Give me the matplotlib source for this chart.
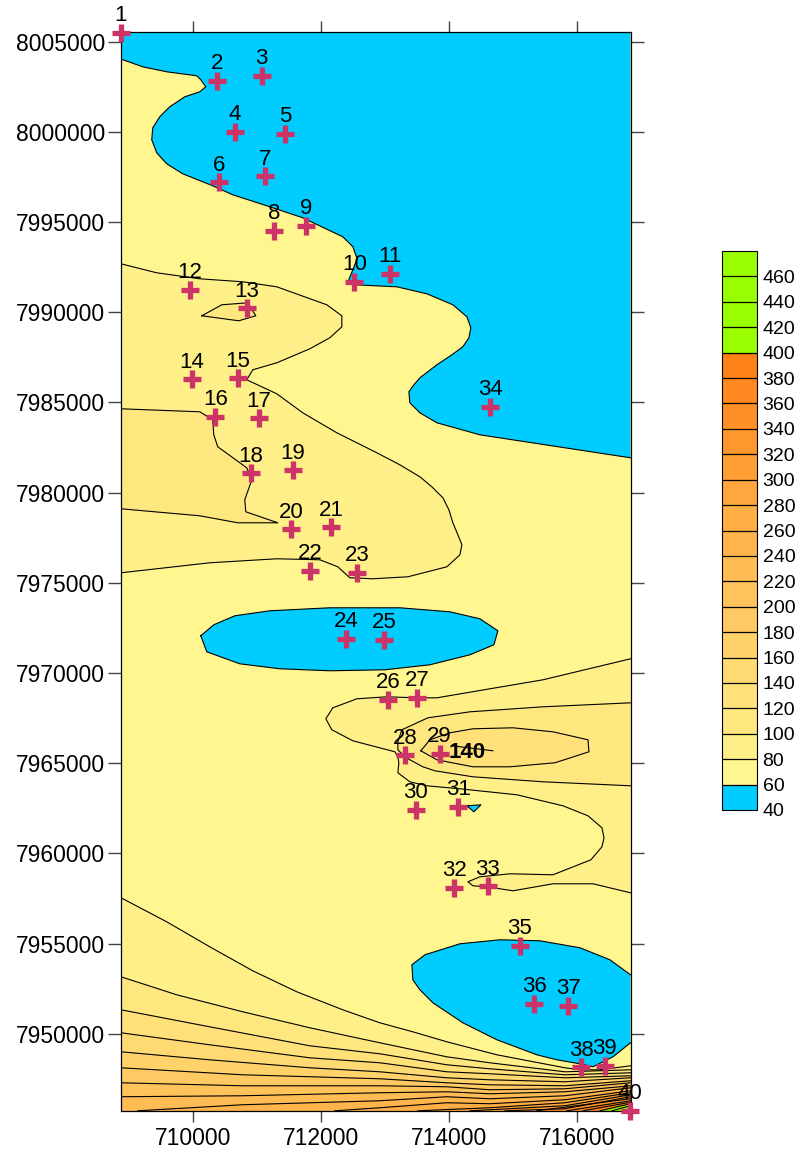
import numpy as np
import matplotlib
matplotlib.use('Agg')
import matplotlib.pyplot as plt
from matplotlib.cm import ScalarMappable
from matplotlib.colors import BoundaryNorm, LinearSegmentedColormap, ListedColormap

plt.rcParams['font.family'] = 'Liberation Sans'

# limits of the map
x_min, x_max = 708875, 716832
y_min, y_max = 7945734, 8005515
x_ticks = [710000, 712000, 714000, 716000]
y_ticks = list(range(7950000, 8005001, 5000))

# colour scale levels
levels = list(range(40, 481, 20))

# sample stations
station_x = [708875, 710375, 711070, 710650, 711440, 710400, 711130, 711270, 711760, 712520,
             713070, 709950, 710840, 709980, 710700, 710350, 711030, 710900, 711560, 711530,
             712160, 711830, 712560, 712390, 712980, 713050, 713500, 713310, 713850, 713480,
             714140, 714080, 714600, 714640, 715100, 715330, 715860, 716060, 716430, 716820]
station_y = [8005500, 8002830, 8003120, 8000000, 7999890, 7997210, 7997540, 7994500, 7994790, 7991690,
             7992130, 7991240, 7990210, 7986290, 7986350, 7984190, 7984130, 7981080, 7981230, 7977980,
             7978090, 7975670, 7975560, 7971900, 7971840, 7968520, 7968640, 7965430, 7965520, 7962430,
             7962580, 7958110, 7958190, 7984760, 7954880, 7951660, 7951570, 7948160, 7948240, 7945750]

# 60 contour, north (blue above it)
north_60_x = [708875, 709214, 709589, 710058, 710121, 710199, 710105, 709871, 709636, 709480,
              709371, 709355, 709433, 709589, 709839, 710308, 710620, 711152, 711714, 712339,
              712496, 712558, 712558, 712433, 712527, 713183, 713652, 714058, 714277, 714339,
              714308, 714214, 714043, 713808, 713543, 713449, 713371, 713386, 713543, 713808, 714480, 716832]
north_60_y = [8004030, 8003603, 8003326, 8003104, 8002883, 8002495, 8002217, 8001940, 8001386, 8000832,
              8000222, 7999557, 7998836, 7998226, 7997672, 7997007, 7996508, 7995899, 7995233, 7994180,
              7993626, 7993016, 7992905, 7991797, 7991519, 7991408, 7991021, 7990411, 7989746, 7989136,
              7988582, 7988083, 7987640, 7987085, 7986364, 7985976, 7985588, 7984979, 7984424, 7983870, 7983204, 7981930]

# 60 contour, lens around stations 24 and 25
lens_60_x = [710121, 710324, 710652, 711199, 712136, 713230, 714011, 714480, 714761, 714699,
             714324, 713699, 712996, 712136, 711355, 710730, 710214, 710121]
lens_60_y = [7972064, 7972673, 7973172, 7973450, 7973616, 7973616, 7973394, 7973006, 7972341, 7971565,
             7971010, 7970456, 7970179, 7970124, 7970235, 7970512, 7971177, 7972064]

# 60 contour, south east
south_60_x = [716832, 716511, 716043, 715418, 714793, 714168, 713621, 713418, 713433, 713543,
              713746, 714214, 714746, 715371, 715684, 716043, 716246, 716558, 716832]
south_60_y = [7953273, 7954104, 7954770, 7955157, 7955213, 7954991, 7954381, 7953827, 7952995, 7952441,
              7951720, 7950612, 7949670, 7948836, 7948560, 7948339, 7948173, 7948727, 7949503]

# 60 contour, small patch by station 31
patch_60_x = [714277, 714496, 714386, 714277]
patch_60_y = [7962640, 7962695, 7962307, 7962640]

# 80 contour, west side
west_80_x = [708875, 709433, 710105, 710777, 711308, 712089, 712324, 712324, 712136, 711824,
             711308, 710933, 710839, 711308, 711714, 712246, 712871, 713230, 713543, 713730,
             713902, 713996, 714058, 714136, 714199, 714168, 713964, 713355, 712808, 712449,
             712261, 711980, 711308, 710261, 708875]
west_80_y = [7992683, 7992184, 7991852, 7991686, 7991408, 7990411, 7989801, 7989191, 7988582, 7987972,
             7987195, 7986808, 7986253, 7985477, 7984424, 7983315, 7982207, 7981541, 7980877, 7980322,
             7979713, 7979048, 7978327, 7977662, 7977108, 7976553, 7975888, 7975334, 7975223, 7975278,
             7975888, 7976277, 7976332, 7976110, 7975556]

# 100 contours, west side
west_100_x = [708875, 710105, 710308, 710324, 710386, 710839, 710918, 710808, 710824, 711324,
              710699, 710105, 708875]
west_100_y = [7984646, 7984480, 7984036, 7983205, 7982540, 7981376, 7980711, 7979602, 7978937, 7978327,
              7978327, 7978715, 7979103]
small_100_x = [710136, 710449, 710855, 710980, 710714, 710136]
small_100_y = [7989801, 7990411, 7990522, 7989801, 7989524, 7989801]

# contours reaching the east edge
east_80_x = [716832, 715464, 713808, 713496, 713027, 712558, 712183, 712074, 712168, 712496,
             713152, 713199, 713214, 713199, 713386, 713652, 714168, 715058, 715777, 716168,
             716386, 716418, 716386, 716214, 715621, 714949, 714480, 714293, 714371, 714590,
             714996, 715621, 716246, 716832]
east_80_y = [7970788, 7969624, 7968626, 7968626, 7968682, 7968571, 7968072, 7967462, 7966853, 7966243,
             7965634, 7965357, 7965024, 7964470, 7963971, 7963749, 7963582, 7963250, 7962640, 7962086,
             7961421, 7960867, 7960368, 7959647, 7958816, 7958871, 7958705, 7958428, 7958206, 7958151,
             7957929, 7958317, 7958317, 7957818]
east_100_x = [716832, 715464, 714324, 713668, 713261, 713199, 713199, 713293, 713386, 713589,
              713777, 714371, 715464, 716832]
east_100_y = [7968349, 7968127, 7967850, 7967518, 7966853, 7966188, 7965745, 7965411, 7965190, 7964802,
              7964580, 7964248, 7963971, 7963749]
east_120_x = [713558, 713699, 714011, 714371, 714996, 715621, 716168, 716183, 715652, 714949,
              714371, 713808, 713558]
east_120_y = [7965689, 7966299, 7966687, 7966909, 7966964, 7966742, 7966299, 7965634, 7965024, 7964802,
              7964802, 7965190, 7965689]
stub_140_x = [714043, 714683]
stub_140_y = [7965966, 7965689]

# fan of contours in the south
fan_80_x = [708875, 709589, 710261, 710933, 711621, 712339, 712918, 713433, 713964, 714746, 715808, 716043, 716355, 716832]
fan_80_y = [7957541, 7956211, 7954825, 7953494, 7952330, 7951333, 7950612, 7950113, 7949559, 7948838, 7948118, 7948007, 7948007, 7948229]
fan_100_x = [708875, 709746, 710777, 711824, 712918, 713964, 714636, 715808, 716832]
fan_100_y = [7953162, 7952164, 7951222, 7950335, 7949504, 7948727, 7948395, 7947896, 7948007]
fan_120_x = [708875, 710261, 711824, 712918, 713964, 714636, 715808, 716832]
fan_120_y = [7951333, 7950390, 7949337, 7948894, 7948284, 7948063, 7947730, 7947841]
fan_140_x = [708875, 710261, 711824, 712918, 713964, 714636, 715808, 716832]
fan_140_y = [7950058, 7949393, 7948672, 7948395, 7947896, 7947786, 7947564, 7947675]
fan_160_x = [708875, 710261, 711824, 712918, 713964, 714636, 715808, 716832]
fan_160_y = [7949005, 7948561, 7948118, 7947896, 7947563, 7947453, 7947343, 7947564]
fan_180_x = [708875, 710777, 712918, 713964, 714636, 715808, 716832]
fan_180_y = [7948118, 7947730, 7947509, 7947287, 7947176, 7947121, 7947398]
fan_200_x = [708875, 710777, 712918, 713964, 714636, 715808, 716832]
fan_200_y = [7947287, 7947121, 7947121, 7947066, 7946900, 7946955, 7947287]
fan_220_x = [708875, 710777, 712918, 713964, 714636, 715808, 716832]
fan_220_y = [7946513, 7946568, 7946734, 7946789, 7946679, 7946789, 7947121]
fan_240_x = [709136, 710777, 712918, 713964, 714636, 715808, 716832]
fan_240_y = [7945734, 7946070, 7946291, 7946513, 7946402, 7946568, 7947011]
fan_260_x = [712214, 712918, 713964, 714636, 715808, 716832]
fan_260_y = [7945734, 7945904, 7946181, 7946125, 7946347, 7946845]
fan_280_x = [713511, 714636, 715808, 716832]
fan_280_y = [7945734, 7945904, 7946181, 7946734]
fan_300_x = [714324, 715808, 716832]
fan_300_y = [7945734, 7946015, 7946623]
fan_320_x = [714871, 715808, 716832]
fan_320_y = [7945734, 7945849, 7946513]
fan_340_x = [715371, 716832]
fan_340_y = [7945734, 7946402]
fan_360_x = [715839, 716832]
fan_360_y = [7945734, 7946291]
fan_380_x = [716089, 716832]
fan_380_y = [7945734, 7946208]
fan_400_x = [716355, 716832]
fan_400_y = [7945734, 7946125]
fan_420_x = [716543, 716832]
fan_420_y = [7945734, 7946015]

# interval colours, blue / yellow to orange ramp / green
ramp = LinearSegmentedColormap.from_list('ramp', ['#FFF68F', '#FF8219'])
colors = ['#00CCFF'] + [ramp(v) for v in np.linspace(0, 1, 17)] + ['#99FF00'] * 4


def color_for(level):
    return colors[levels.index(level)]


def region(ax, x, y, level, zorder=1.0):
    ax.fill(x, y, color=color_for(level), lw=0, zorder=zorder)
    ax.plot(x, y, color='k', lw=0.8, zorder=zorder + 0.05)


fig = plt.figure(figsize=(7.99, 11.5), dpi=100)
W, H = 799.0, 1150.0
ax = fig.add_axes([121.0 / W, 1 - 1110.8 / H, 509.5 / W, 1078.5 / H])
ax.set_xlim(x_min, x_max)
ax.set_ylim(y_min, y_max)
ax.set_facecolor(colors[1])

# fan in the south, lowest level first so the higher ones paint over it
fans = [(80, fan_80_x, fan_80_y), (100, fan_100_x, fan_100_y), (120, fan_120_x, fan_120_y),
        (140, fan_140_x, fan_140_y), (160, fan_160_x, fan_160_y), (180, fan_180_x, fan_180_y),
        (200, fan_200_x, fan_200_y), (220, fan_220_x, fan_220_y), (240, fan_240_x, fan_240_y),
        (260, fan_260_x, fan_260_y), (280, fan_280_x, fan_280_y), (300, fan_300_x, fan_300_y),
        (320, fan_320_x, fan_320_y), (340, fan_340_x, fan_340_y), (360, fan_360_x, fan_360_y),
        (380, fan_380_x, fan_380_y), (400, fan_400_x, fan_400_y), (420, fan_420_x, fan_420_y)]
for i, (level, fx, fy) in enumerate(fans):
    ax.fill(fx + [x_max, x_min], fy + [y_min, y_min], color=color_for(level), lw=0, zorder=1 + i * 0.01)
    ax.plot(fx, fy, color='k', lw=0.8, zorder=1.5)

region(ax, west_80_x, west_80_y, 80, 1.6)
region(ax, west_100_x, west_100_y, 100, 1.7)
region(ax, small_100_x, small_100_y, 100, 1.7)
region(ax, east_80_x, east_80_y, 80, 1.6)
region(ax, east_100_x, east_100_y, 100, 1.7)
region(ax, east_120_x, east_120_y, 120, 1.8)
ax.plot(stub_140_x, stub_140_y, color='k', lw=0.8, zorder=1.9)

# blue low areas
ax.fill(north_60_x + [x_max, x_min], north_60_y + [y_max, y_max], color=colors[0], lw=0, zorder=1.9)
ax.plot(north_60_x, north_60_y, color='k', lw=0.8, zorder=1.95)
region(ax, lens_60_x, lens_60_y, 40, 1.9)
region(ax, south_60_x, south_60_y, 40, 1.9)
region(ax, patch_60_x, patch_60_y, 40, 1.9)

ax.text(714277, 7965620, '140', fontsize=16, fontweight='bold', ha='center', va='center', zorder=3)

# stations
ax.plot(station_x, station_y, ls='none', marker='+', ms=13, mew=3.8, color='#CC3366', clip_on=False, zorder=4)
for n, (sx, sy) in enumerate(zip(station_x, station_y), start=1):
    ax.annotate(str(n), (sx, sy), xytext=(0, 8.3), textcoords='offset points', ha='center', va='baseline',
                fontsize=16, color='k', annotation_clip=False, zorder=5)

# axes and ticks
ax.set_xticks(x_ticks)
ax.set_yticks(y_ticks)
ax.ticklabel_format(useOffset=False, style='plain')
ax.tick_params(axis='x', top=True, bottom=True, length=8, width=1, color='#444444', labelsize=16.5, pad=4)
ax.tick_params(axis='y', left=True, right=True, length=9.4, width=1, color='#444444', labelsize=16.5, pad=2)
for spine in ax.spines.values():
    spine.set_linewidth(0.9)

# colour bar
cax = fig.add_axes([722.0 / W, 1 - 810 / H, 35 / W, 559 / H])
cmap = ListedColormap(colors)
norm = BoundaryNorm(levels, cmap.N)
cbar = fig.colorbar(ScalarMappable(norm=norm, cmap=cmap), cax=cax, drawedges=True, spacing='proportional',
                    ticks=levels[:-1])
cbar.dividers.set_color('k')
cbar.dividers.set_linewidth(0.9)
cbar.outline.set_linewidth(0.8)
cbar.minorticks_off()
cbar.ax.tick_params(length=0, labelsize=14, pad=4)

fig.savefig('out.png', dpi=100)
